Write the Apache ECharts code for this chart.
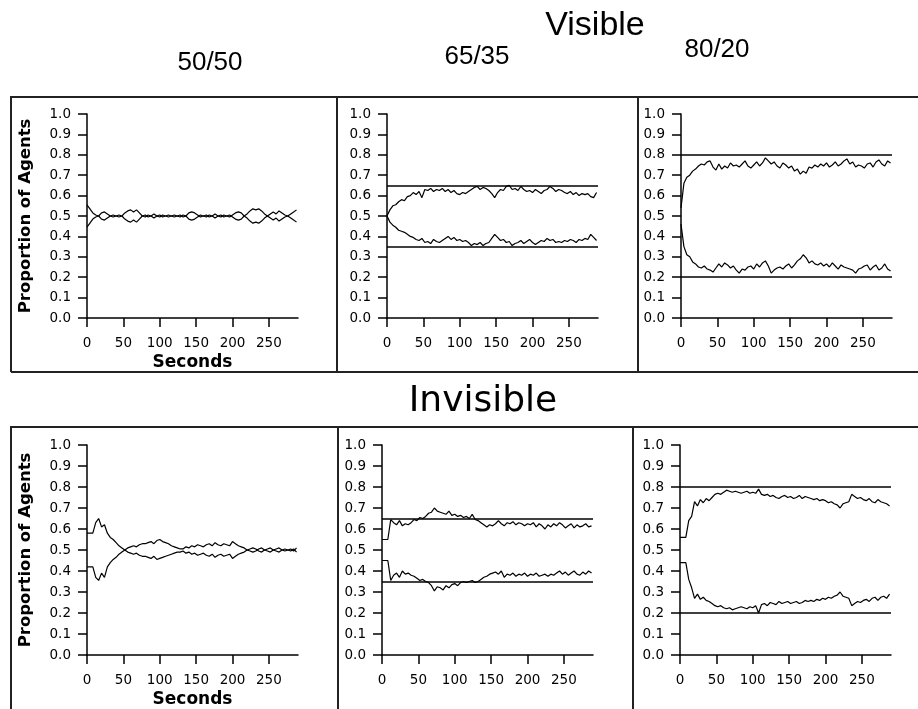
<!DOCTYPE html>
<html>
<head>
<meta charset="utf-8">
<script src="https://cdn.jsdelivr.net/npm/echarts@6/dist/echarts.min.js"></script>
<style>
  html, body { margin: 0; padding: 0; background: #fff; }
  #chart { width: 918px; height: 709px; }
</style>
</head>
<body>
<div id="chart"></div>
<script>
// time axis (seconds), one sample every 4 s
const seconds = [0,4,8,12,16,20,24,28,32,36,40,44,48,52,56,60,64,68,72,76,80,84,88,92,96,100,104,108,112,116,120,124,128,132,136,140,144,148,152,156,160,164,168,172,176,180,184,188,192,196,200,204,208,212,216,220,224,228,232,236,240,244,248,252,256,260,264,268,272,276,280,284,288];
const xTicks = [0, 50, 100, 150, 200, 250];

// Visible 50/50
const vis5050Hi = [.555,.535,.515,.505,.50,.485,.48,.49,.50,.505, .50,.495,.50,.515,.525,.53,.52,.53,.515,.50, .495,.505,.50,.51,.50,.495,.505,.50,.495,.50, .505,.50,.505,.495,.50,.485,.48,.485,.495,.505, .50,.495,.505,.50,.51,.50,.495,.505,.50,.495, .505,.515,.52,.515,.50,.49,.475,.465,.47,.465, .475,.49,.50,.51,.52,.51,.525,.515,.505,.50, .49,.48,.47];
const vis5050Lo = [.445,.465,.485,.495,.50,.515,.52,.51,.50,.495, .50,.505,.50,.485,.475,.47,.48,.47,.485,.50, .505,.495,.50,.49,.50,.505,.495,.50,.505,.50, .495,.50,.495,.505,.50,.515,.52,.515,.505,.495, .50,.505,.495,.50,.49,.50,.505,.495,.50,.505, .495,.485,.48,.485,.50,.51,.525,.535,.53,.535, .525,.51,.50,.49,.48,.49,.475,.485,.495,.50, .51,.52,.53];

// Visible 65/35
const vis6535Hi = [.50,.53,.55,.555,.57,.58,.575,.595,.60,.615, .605,.62,.59,.63,.625,.635,.62,.63,.625,.635, .62,.63,.615,.625,.61,.605,.615,.61,.62,.63, .64,.645,.63,.64,.635,.625,.61,.59,.615,.63, .625,.645,.65,.63,.635,.625,.645,.63,.62,.625, .615,.63,.62,.61,.625,.63,.645,.635,.62,.63, .625,.615,.61,.62,.605,.615,.60,.61,.605,.61, .595,.59,.615];
const vis6535Lo = [.50,.47,.455,.445,.43,.425,.42,.41,.40,.395, .385,.38,.39,.37,.375,.365,.385,.375,.37,.38, .39,.40,.385,.395,.38,.385,.375,.38,.37,.355, .365,.36,.37,.355,.365,.37,.39,.41,.395,.38, .385,.37,.375,.355,.365,.37,.38,.365,.375,.385, .37,.36,.37,.38,.375,.39,.38,.385,.37,.375, .37,.38,.375,.385,.38,.37,.385,.38,.39,.385, .41,.395,.38];

// Visible 80/20
const vis8020Hi = [.54,.66,.69,.70,.72,.73,.745,.755,.75,.765, .77,.74,.725,.755,.73,.745,.735,.76,.745,.75, .74,.755,.77,.745,.735,.75,.765,.745,.76,.785, .77,.755,.765,.745,.735,.76,.75,.735,.745,.72, .73,.705,.72,.71,.74,.735,.75,.74,.755,.745, .76,.74,.75,.765,.745,.755,.77,.78,.755,.765, .74,.75,.745,.735,.755,.76,.74,.765,.775,.755, .745,.77,.76];
const vis8020Lo = [.46,.35,.31,.30,.275,.265,.25,.245,.255,.24, .235,.225,.245,.265,.25,.27,.26,.245,.255,.235, .22,.24,.235,.25,.255,.24,.265,.25,.27,.28, .255,.22,.235,.245,.25,.24,.255,.265,.245,.26, .28,.29,.31,.295,.27,.28,.265,.26,.27,.255, .265,.25,.27,.255,.24,.26,.25,.245,.24,.235, .22,.24,.245,.255,.26,.235,.25,.26,.235,.245, .265,.24,.23];

// Invisible 50/50
const inv5050Hi = [.58,.58,.58,.63,.65,.61,.62,.58,.56,.55, .535,.52,.51,.50,.49,.485,.48,.485,.475,.47, .47,.465,.46,.47,.455,.46,.465,.47,.475,.48, .485,.49,.49,.495,.485,.49,.48,.485,.475,.48, .485,.475,.47,.48,.465,.475,.48,.47,.475,.48, .46,.47,.48,.485,.49,.50,.505,.51,.505,.495, .49,.50,.505,.51,.50,.495,.49,.50,.505,.50, .495,.505,.49];
const inv5050Lo = [.42,.42,.42,.37,.355,.39,.37,.42,.44,.455, .465,.48,.49,.50,.51,.515,.52,.515,.525,.53, .53,.535,.54,.53,.545,.55,.54,.535,.53,.52, .515,.51,.505,.505,.515,.51,.52,.515,.525,.52, .515,.525,.53,.52,.535,.525,.52,.53,.525,.52, .54,.53,.52,.515,.51,.50,.495,.49,.495,.505, .51,.50,.495,.49,.50,.505,.51,.50,.495,.50, .505,.495,.51];

// Invisible 65/35
const inv6535Hi = [.55,.55,.55,.645,.63,.62,.64,.615,.625,.62, .63,.645,.64,.655,.65,.66,.675,.68,.70,.685, .68,.675,.67,.685,.665,.67,.66,.665,.655,.66, .65,.67,.645,.64,.63,.62,.61,.62,.615,.625, .64,.625,.615,.63,.625,.635,.62,.63,.625,.615, .625,.62,.63,.61,.625,.615,.60,.62,.61,.625, .615,.63,.62,.605,.615,.625,.605,.62,.61,.615, .625,.61,.615];
const inv6535Lo = [.45,.45,.45,.355,.38,.39,.37,.40,.385,.39, .38,.375,.365,.355,.36,.35,.345,.33,.305,.325, .32,.31,.33,.32,.335,.34,.33,.345,.35,.345, .35,.355,.345,.35,.36,.37,.375,.385,.39,.395, .385,.40,.37,.385,.38,.39,.375,.385,.38,.39, .375,.385,.38,.39,.375,.38,.385,.375,.385,.38, .39,.40,.385,.395,.38,.39,.40,.385,.38,.395, .385,.40,.39];

// Invisible 80/20
const inv8020Hi = [.56,.56,.56,.64,.66,.73,.71,.74,.725,.745, .735,.75,.765,.77,.765,.775,.785,.78,.775,.78, .775,.77,.775,.78,.77,.775,.77,.79,.765,.76, .765,.755,.76,.75,.745,.755,.76,.75,.755,.745, .75,.76,.745,.755,.75,.745,.74,.745,.735,.74, .735,.725,.73,.72,.715,.70,.72,.725,.73,.765, .755,.745,.75,.74,.735,.745,.73,.725,.74,.73, .725,.72,.71];
const inv8020Lo = [.44,.44,.44,.36,.32,.27,.29,.265,.275,.26, .255,.245,.235,.23,.235,.225,.22,.225,.215,.22, .225,.23,.225,.22,.23,.225,.235,.20,.24,.245, .235,.25,.245,.24,.255,.245,.25,.255,.245,.25, .255,.245,.25,.26,.255,.26,.255,.265,.26,.27, .265,.275,.27,.28,.285,.30,.28,.275,.27,.235, .245,.255,.25,.26,.265,.255,.27,.275,.26,.275, .28,.27,.29];

// target split lines per condition
const targets5050 = [];
const targets6535 = [0.65, 0.35];
const targets8020 = [0.8, 0.2];

const columnTitles = ['50/50', '65/35', '80/20'];
const rowTitles = ['Visible', 'Invisible'];

const panels = [
  { row: 0, col: 0, hi: vis5050Hi, lo: vis5050Lo, targets: targets5050 },
  { row: 0, col: 1, hi: vis6535Hi, lo: vis6535Lo, targets: targets6535 },
  { row: 0, col: 2, hi: vis8020Hi, lo: vis8020Lo, targets: targets8020 },
  { row: 1, col: 0, hi: inv5050Hi, lo: inv5050Lo, targets: targets5050 },
  { row: 1, col: 1, hi: inv6535Hi, lo: inv6535Lo, targets: targets6535 },
  { row: 1, col: 2, hi: inv8020Hi, lo: inv8020Lo, targets: targets8020 }
];

// layout
const gridLeft = [[87, 387, 681], [87, 382, 680]];
const gridTop = [114, 445];
const gridHeight = [204, 210];
const gridWidth = 211;
const tickFont = 'DejaVu Sans';

const pairs = (ys) => seconds.map((t, i) => [t, ys[i]]);

const grids = [], xAxes = [], yAxes = [], series = [];
panels.forEach((p, k) => {
  grids.push({
    left: gridLeft[p.row][p.col], top: gridTop[p.row],
    width: gridWidth, height: gridHeight[p.row]
  });
  xAxes.push({
    type: 'value', gridIndex: k, min: 0, max: 290, interval: 50,
    name: p.col === 0 ? 'Seconds' : '',
    nameLocation: 'middle', nameGap: 36,
    nameTextStyle: { fontFamily: 'DejaVu Sans', fontWeight: 'bold', fontSize: 17, color: '#000' },
    axisLine: { lineStyle: { color: '#000', width: 1.5 } },
    axisTick: { length: 9, customValues: xTicks, lineStyle: { color: '#000', width: 1.5 } },
    axisLabel: { margin: 18, customValues: xTicks, fontFamily: tickFont, fontSize: 13.5, color: '#000' },
    splitLine: { show: false }
  });
  yAxes.push({
    type: 'value', gridIndex: k, min: 0, max: 1, interval: 0.1,
    name: p.col === 0 ? 'Proportion of Agents' : '',
    nameLocation: 'middle', nameGap: 53, nameRotate: 90,
    nameTextStyle: { fontFamily: 'DejaVu Sans', fontWeight: 'bold', fontSize: 16.5, color: '#000' },
    axisLine: { show: true, lineStyle: { color: '#000', width: 1.5 } },
    axisTick: { show: true, length: 9, lineStyle: { color: '#000', width: 1.5 } },
    axisLabel: { margin: 16, fontFamily: tickFont, fontSize: 13.5, color: '#000',
      formatter: (v) => v.toFixed(1) },
    splitLine: { show: false }
  });
  [p.hi, p.lo].forEach((ys, j) => {
    series.push({
      type: 'line', xAxisIndex: k, yAxisIndex: k,
      data: pairs(ys), showSymbol: false,
      lineStyle: { color: '#000', width: 1.2 },
      markLine: j === 0 && p.targets.length ? {
        symbol: 'none', silent: true, label: { show: false },
        lineStyle: { color: '#000', width: 1.6, type: 'solid' },
        data: p.targets.map((v) => ({ yAxis: v }))
      } : undefined
    });
  });
});

const frameStyle = { stroke: '#222', lineWidth: 2 };
const graphic = [
  // top row frame
  { type: 'polyline', shape: { points: [[11, 372], [11, 97], [918, 97]] }, style: frameStyle },
  { type: 'line', shape: { x1: 11, y1: 372, x2: 918, y2: 372 }, style: frameStyle },
  { type: 'line', shape: { x1: 337, y1: 97, x2: 337, y2: 372 }, style: frameStyle },
  { type: 'line', shape: { x1: 638, y1: 97, x2: 638, y2: 372 }, style: frameStyle },
  // bottom row frame
  { type: 'polyline', shape: { points: [[11, 709], [11, 427], [918, 427]] }, style: frameStyle },
  { type: 'line', shape: { x1: 338, y1: 427, x2: 338, y2: 709 }, style: frameStyle },
  { type: 'line', shape: { x1: 633, y1: 427, x2: 633, y2: 709 }, style: frameStyle },
  // headings
  { type: 'text', x: 595, y: 26, style: { text: rowTitles[0], align: 'center', verticalAlign: 'middle',
      font: '34px "Liberation Sans"', fill: '#000' } },
  { type: 'text', x: 483, y: 402, style: { text: rowTitles[1], align: 'center', verticalAlign: 'middle',
      font: '36px "DejaVu Sans"', fill: '#000' } },
  { type: 'text', x: 210, y: 63, style: { text: columnTitles[0], align: 'center', verticalAlign: 'middle',
      font: '26px "Liberation Sans"', fill: '#000' } },
  { type: 'text', x: 477, y: 57, style: { text: columnTitles[1], align: 'center', verticalAlign: 'middle',
      font: '26px "Liberation Sans"', fill: '#000' } },
  { type: 'text', x: 717, y: 50, style: { text: columnTitles[2], align: 'center', verticalAlign: 'middle',
      font: '26px "Liberation Sans"', fill: '#000' } }
];

const chart = echarts.init(document.getElementById('chart'));
chart.setOption({
  animation: false,
  backgroundColor: '#fff',
  grid: grids,
  xAxis: xAxes,
  yAxis: yAxes,
  series: series,
  graphic: graphic
});
</script>
</body>
</html>
